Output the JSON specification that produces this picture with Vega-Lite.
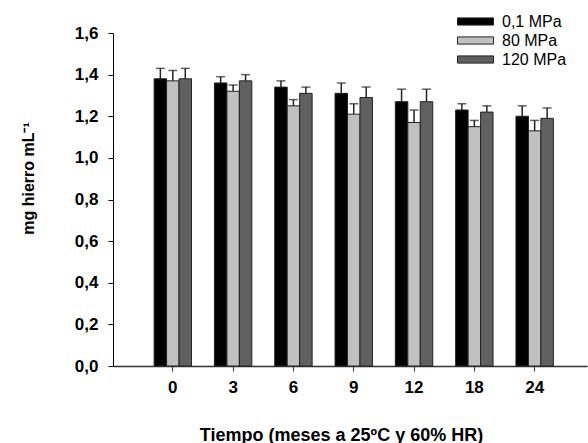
{
  "$schema": "https://vega.github.io/schema/vega-lite/v6.json",
  "width": 474,
  "height": 333,
  "autosize": {"type": "none"},
  "padding": {"left": 113, "top": 33, "right": 1, "bottom": 77},
  "background": "white",
  "config": {"view": {"stroke": null}, "font": "Liberation Sans"},
  "data": {
    "values": [
      {"tiempo": 0, "presion": "0,1 MPa", "valor": 1.38, "lim": 1.43},
      {"tiempo": 0, "presion": "80 MPa", "valor": 1.37, "lim": 1.42},
      {"tiempo": 0, "presion": "120 MPa", "valor": 1.38, "lim": 1.43},
      {"tiempo": 3, "presion": "0,1 MPa", "valor": 1.36, "lim": 1.39},
      {"tiempo": 3, "presion": "80 MPa", "valor": 1.32, "lim": 1.35},
      {"tiempo": 3, "presion": "120 MPa", "valor": 1.37, "lim": 1.40},
      {"tiempo": 6, "presion": "0,1 MPa", "valor": 1.34, "lim": 1.37},
      {"tiempo": 6, "presion": "80 MPa", "valor": 1.25, "lim": 1.28},
      {"tiempo": 6, "presion": "120 MPa", "valor": 1.31, "lim": 1.34},
      {"tiempo": 9, "presion": "0,1 MPa", "valor": 1.31, "lim": 1.36},
      {"tiempo": 9, "presion": "80 MPa", "valor": 1.21, "lim": 1.26},
      {"tiempo": 9, "presion": "120 MPa", "valor": 1.29, "lim": 1.34},
      {"tiempo": 12, "presion": "0,1 MPa", "valor": 1.27, "lim": 1.33},
      {"tiempo": 12, "presion": "80 MPa", "valor": 1.17, "lim": 1.23},
      {"tiempo": 12, "presion": "120 MPa", "valor": 1.27, "lim": 1.33},
      {"tiempo": 18, "presion": "0,1 MPa", "valor": 1.23, "lim": 1.26},
      {"tiempo": 18, "presion": "80 MPa", "valor": 1.15, "lim": 1.18},
      {"tiempo": 18, "presion": "120 MPa", "valor": 1.22, "lim": 1.25},
      {"tiempo": 24, "presion": "0,1 MPa", "valor": 1.20, "lim": 1.25},
      {"tiempo": 24, "presion": "80 MPa", "valor": 1.13, "lim": 1.18},
      {"tiempo": 24, "presion": "120 MPa", "valor": 1.19, "lim": 1.24}
    ]
  },
  "encoding": {
    "x": {
      "field": "tiempo",
      "type": "ordinal",
      "scale": {"paddingInner": 0.38, "paddingOuter": 0.62, "align": 0.55},
      "axis": {
        "title": "Tiempo (meses a 25ºC y 60% HR)",
        "titleFont": "Liberation Sans",
        "titleFontSize": 18,
        "titleFontWeight": "bold",
        "titleColor": "#000",
        "titleX": 228,
        "titleY": 74,
        "titleAlign": "center",
        "titleBaseline": "alphabetic",
        "labelFont": "Liberation Sans",
        "labelFontSize": 17,
        "labelFontWeight": "bold",
        "labelColor": "#000",
        "labelAngle": 0,
        "labelPadding": 8,
        "domainColor": "#333",
        "domainWidth": 1.5,
        "tickColor": "#333",
        "tickSize": 5,
        "grid": false
      }
    },
    "xOffset": {
      "field": "presion",
      "type": "nominal",
      "sort": ["0,1 MPa", "80 MPa", "120 MPa"],
      "scale": {"paddingInner": 0, "paddingOuter": 0}
    }
  },
  "layer": [
    {
      "mark": {"type": "bar", "stroke": "#222", "strokeWidth": 1},
      "encoding": {
        "y": {
          "field": "valor",
          "type": "quantitative",
          "scale": {"domain": [0, 1.6], "nice": false},
          "axis": {
            "title": "mg hierro mL⁻¹",
            "titleFont": "Liberation Sans",
            "titleFontSize": 16,
            "titleFontWeight": "bold",
            "titleColor": "#000",
            "titleAngle": -90,
            "titleX": -85,
            "titleY": 145,
            "titleAlign": "center",
            "titleBaseline": "middle",
            "values": [0, 0.2, 0.4, 0.6, 0.8, 1.0, 1.2, 1.4, 1.6],
            "labelExpr": "replace(format(datum.value, '.1f'), '.', ',')",
            "labelFont": "Liberation Sans",
            "labelFontSize": 17,
            "labelFontWeight": "bold",
            "labelColor": "#000",
            "labelPadding": 10,
            "domainColor": "#000",
            "tickColor": "#000",
            "tickSize": 5,
            "grid": false
          }
        },
        "fill": {
          "field": "presion",
          "type": "nominal",
          "sort": ["0,1 MPa", "80 MPa", "120 MPa"],
          "scale": {"domain": ["0,1 MPa", "80 MPa", "120 MPa"], "range": ["#000000", "#c0c0c0", "#606060"]},
          "legend": {
            "title": null,
            "orient": "none",
            "legendX": 353,
            "legendY": -21,
            "padding": 0,
            "symbolType": "M-2,-0.4H2V0.4H-2Z",
            "symbolSize": 324,
            "symbolStrokeColor": "#222",
            "symbolStrokeWidth": 1,
            "symbolOpacity": 1,
            "labelFont": "Liberation Sans",
            "labelFontSize": 16,
            "labelColor": "#000",
            "labelOffset": 17,
            "rowPadding": 1
          }
        }
      }
    },
    {
      "mark": {"type": "rule", "color": "#222", "strokeWidth": 1.5},
      "encoding": {
        "y": {"field": "valor", "type": "quantitative"},
        "y2": {"field": "lim"}
      }
    },
    {
      "mark": {"type": "tick", "color": "#222", "thickness": 1.5, "size": 9},
      "encoding": {
        "y": {"field": "lim", "type": "quantitative"}
      }
    }
  ]
}
